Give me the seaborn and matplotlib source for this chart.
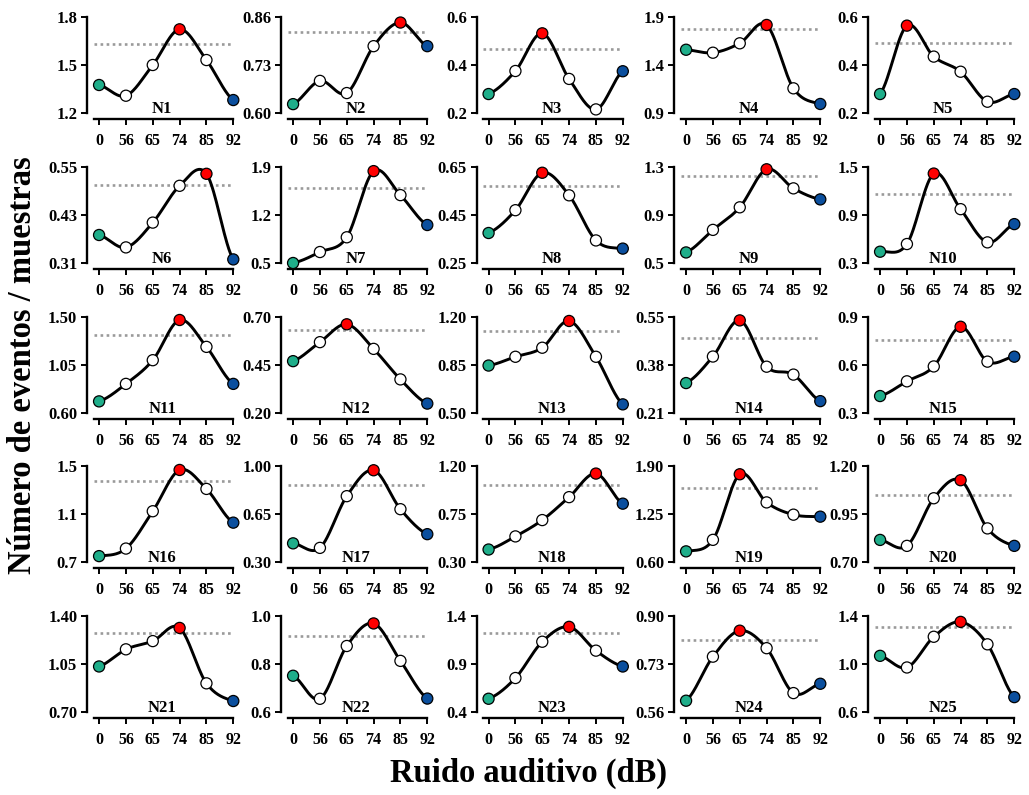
import numpy as np
import pandas as pd
import matplotlib
matplotlib.use("Agg")
import matplotlib.pyplot as plt
import seaborn as sns

# Noise levels (dB) shown on every x axis
noise_levels = ["0", "56", "65", "74", "85", "92"]

# Events / samples for each subject N1..N25
n01 = [1.375, 1.308, 1.500, 1.723, 1.531, 1.281]
n02 = [0.624, 0.687, 0.654, 0.781, 0.845, 0.781]
n03 = [0.279, 0.375, 0.532, 0.342, 0.215, 0.374]
n04 = [1.559, 1.528, 1.626, 1.817, 1.157, 0.994]
n05 = [0.279, 0.564, 0.435, 0.372, 0.247, 0.279]
n06 = [0.380, 0.349, 0.411, 0.503, 0.533, 0.319]
n07 = [0.500, 0.660, 0.875, 1.840, 1.490, 1.054]
n08 = [0.375, 0.470, 0.626, 0.532, 0.344, 0.310]
n09 = [0.588, 0.776, 0.964, 1.281, 1.122, 1.030]
n10 = [0.441, 0.537, 1.418, 0.973, 0.558, 0.786]
n11 = [0.709, 0.873, 1.095, 1.472, 1.220, 0.873]
n12 = [0.470, 0.569, 0.662, 0.534, 0.375, 0.249]
n13 = [0.846, 0.910, 0.976, 1.171, 0.910, 0.563]
n14 = [0.316, 0.410, 0.538, 0.374, 0.346, 0.252]
n15 = [0.406, 0.498, 0.591, 0.839, 0.621, 0.652]
n16 = [0.749, 0.812, 1.123, 1.467, 1.309, 1.028]
n17 = [0.436, 0.403, 0.780, 0.969, 0.685, 0.503]
n18 = [0.417, 0.540, 0.693, 0.908, 1.129, 0.847]
n19 = [0.744, 0.900, 1.788, 1.407, 1.241, 1.214]
n20 = [0.815, 0.784, 1.032, 1.126, 0.875, 0.784]
n21 = [1.032, 1.157, 1.217, 1.313, 0.909, 0.780]
n22 = [0.751, 0.655, 0.875, 0.969, 0.813, 0.656]
n23 = [0.538, 0.754, 1.132, 1.287, 1.039, 0.874]
n24 = [0.600, 0.756, 0.848, 0.786, 0.627, 0.660]
n25 = [1.068, 0.971, 1.227, 1.351, 1.164, 0.724]

series = [n01, n02, n03, n04, n05, n06, n07, n08, n09, n10,
          n11, n12, n13, n14, n15, n16, n17, n18, n19, n20,
          n21, n22, n23, n24, n25]

# Reference level (dotted line) per subject
thresholds = [1.629, 0.819, 0.465, 1.772, 0.490,
              0.505, 1.600, 0.570, 1.223, 1.160,
              1.330, 0.633, 1.100, 0.476, 0.757,
              1.372, 0.862, 1.025, 1.600, 1.051,
              1.273, 0.916, 1.218, 0.816, 1.309]

# y tick labels (bottom, middle, top) per subject
y_tick_labels = [
    ["1.2", "1.5", "1.8"], ["0.60", "0.73", "0.86"], ["0.2", "0.4", "0.6"],
    ["0.9", "1.4", "1.9"], ["0.2", "0.4", "0.6"],
    ["0.31", "0.43", "0.55"], ["0.5", "1.2", "1.9"], ["0.25", "0.45", "0.65"],
    ["0.5", "0.9", "1.3"], ["0.3", "0.9", "1.5"],
    ["0.60", "1.05", "1.50"], ["0.20", "0.45", "0.70"], ["0.50", "0.85", "1.20"],
    ["0.21", "0.38", "0.55"], ["0.3", "0.6", "0.9"],
    ["0.7", "1.1", "1.5"], ["0.30", "0.65", "1.00"], ["0.30", "0.75", "1.20"],
    ["0.60", "1.25", "1.90"], ["0.70", "0.95", "1.20"],
    ["0.70", "1.05", "1.40"], ["0.6", "0.8", "1.0"], ["0.4", "0.9", "1.4"],
    ["0.56", "0.73", "0.90"], ["0.6", "1.0", "1.4"],
]

panel_names = [f"N{i}" for i in range(1, 26)]

role_colors = {"first": "#1fae8a", "mid": "#ffffff", "peak": "#ff0000", "last": "#0b4f9e"}


def smooth_curve(y, samples=30):
    """Catmull-Rom spline through equally spaced points."""
    y = np.asarray(y, dtype=float)
    n = len(y)
    ext = np.concatenate([[y[0]], y, [y[-1]]])
    xs, ys = [], []
    t = np.linspace(0, 1, samples, endpoint=False)
    for i in range(n - 1):
        p0, p1, p2, p3 = ext[i], ext[i + 1], ext[i + 2], ext[i + 3]
        m1 = (p2 - p0) / 2.0
        m2 = (p3 - p1) / 2.0
        h00 = 2 * t**3 - 3 * t**2 + 1
        h10 = t**3 - 2 * t**2 + t
        h01 = -2 * t**3 + 3 * t**2
        h11 = t**3 - t**2
        xs.append(i + t)
        ys.append(h00 * p1 + h10 * m1 + h01 * p2 + h11 * m2)
    xs.append([n - 1])
    ys.append([y[-1]])
    return np.concatenate(xs), np.concatenate(ys)


sns.set_theme(style="ticks")
plt.rcParams["font.family"] = ["Liberation Serif", "DejaVu Serif"]
plt.rcParams["font.weight"] = "bold"
plt.rcParams["axes.labelweight"] = "bold"
plt.rcParams["text.color"] = "black"
plt.rcParams["axes.labelcolor"] = "black"
plt.rcParams["xtick.color"] = "black"
plt.rcParams["ytick.color"] = "black"
plt.rcParams["axes.edgecolor"] = "black"

W, H = 1029, 795
fig = plt.figure(figsize=(W / 100, H / 100), dpi=100)
fig.patch.set_facecolor("white")

col_left = [87, 281, 476.5, 674, 868]
row_top = [17, 167, 317, 466, 616]
ax_w, ax_h = 153, 96

for k, (vals, thr, ylabs, name) in enumerate(zip(series, thresholds, y_tick_labels, panel_names)):
    r, c = divmod(k, 5)
    ax = fig.add_axes([col_left[c] / W, 1 - (row_top[r] + ax_h) / H, ax_w / W, ax_h / H])
    ax.set_facecolor("white")

    pos = np.arange(len(vals))
    peak = int(np.argmax(vals))
    roles = []
    for i in pos:
        if i == 0:
            roles.append("first")
        elif i == len(vals) - 1:
            roles.append("last")
        elif i == peak:
            roles.append("peak")
        else:
            roles.append("mid")
    df = pd.DataFrame({"pos": pos, "value": vals, "role": roles})

    yticks = [float(v) for v in ylabs]
    ax.hlines(thr, -0.2, 4.9, colors="#9a9a9a", linestyles=(0, (1, 1.3)), linewidth=1.9, zorder=1)

    cx, cy = smooth_curve(vals)
    ax.plot(cx, cy, color="black", linewidth=2.1, zorder=2, clip_on=False, solid_capstyle="round")

    sns.scatterplot(data=df, x="pos", y="value", hue="role", palette=role_colors,
                    s=64, edgecolor="black", linewidth=0.9, legend=False, ax=ax,
                    zorder=3, clip_on=False)

    ax.set_xlim(-0.45, 5.25)
    ax.set_ylim(yticks[0], yticks[-1])
    ax.set_xticks(pos)
    ax.set_xticklabels(noise_levels)
    ax.set_yticks(yticks)
    ax.set_yticklabels(ylabs)
    ax.set_xlabel("")
    ax.set_ylabel("")

    for side in ("top", "right"):
        ax.spines[side].set_visible(False)
    ax.spines["left"].set_linewidth(1.7)
    ax.spines["bottom"].set_linewidth(1.7)
    ax.spines["bottom"].set_position(("outward", 4))
    ax.spines["bottom"].set_bounds(-0.2, 5)
    ax.tick_params(axis="both", direction="out", length=4, width=1.4,
                   labelsize=12, colors="black", pad=3)
    ax.tick_params(axis="x", labelsize=11.5, pad=6.5)
    for lab in ax.get_xticklabels() + ax.get_yticklabels():
        lab.set_fontweight("bold")
        lab.set_color("black")

    ax.text(2.35, yticks[0], name, ha="center", va="baseline", color="black",
            fontsize=12, fontweight="bold", zorder=4)

fig.text(0.5136, 0.0277, "Ruido auditivo (dB)", ha="center", va="center",
         fontsize=23.5, fontweight="bold", color="black")
fig.text(0.0214, 0.541, "Número de eventos / muestras", ha="center", va="center",
         rotation=90, fontsize=23.5, fontweight="bold", color="black")

fig.savefig("out.png", dpi=100, facecolor="white")
